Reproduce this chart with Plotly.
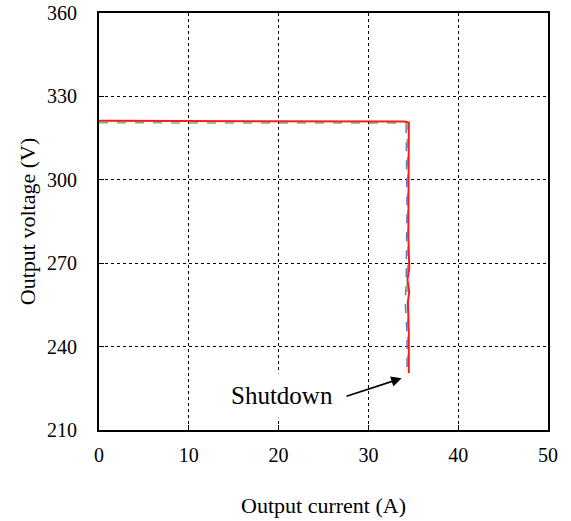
import plotly.graph_objects as go

# Data
red_current = [0, 5, 10, 15, 20, 25, 30, 34.0, 34.5, 34.5, 34.45, 34.55, 34.35, 34.55, 34.4, 34.5, 34.5, 34.5]
red_voltage = [321.2, 321.2, 321.1, 321.1, 321.1, 321.0, 321.0, 321.0, 320.6, 300, 280, 268, 264, 260, 256, 245, 235, 230.5]

green_current = [0, 10, 20, 30, 34.3, 34.4, 34.4, 34.3, 34.4, 34.4]
green_voltage = [320.5, 320.5, 320.5, 320.4, 320.4, 300, 270, 262, 250, 232]

blue_current = [34.2, 34.3, 34.2, 34.1, 34.3, 34.3]
blue_voltage = [320, 290, 262, 256, 245, 232]

x_ticks = [0, 10, 20, 30, 40, 50]
y_ticks = [210, 240, 270, 300, 330, 360]

font_family = "Liberation Serif"

fig = go.Figure()
fig.add_trace(go.Scatter(x=blue_current, y=blue_voltage, mode="lines",
                         line=dict(color="#4a7fd0", width=1.5, dash="dash"), showlegend=False))
fig.add_trace(go.Scatter(x=green_current, y=green_voltage, mode="lines",
                         line=dict(color="#5fc07a", width=1.5, dash="dash"), showlegend=False))
fig.add_trace(go.Scatter(x=red_current, y=red_voltage, mode="lines",
                         line=dict(color="#ff1a1a", width=2), showlegend=False))

# Arrow
fig.add_annotation(x=33.7, y=228.6, ax=27.4, ay=222.0, xref="x", yref="y",
                   axref="x", ayref="y", text="", showarrow=True,
                   arrowhead=2, arrowsize=1.3, arrowwidth=1.6, arrowcolor="black")
# Label
fig.add_annotation(x=20.35, y=222.3, xref="x", yref="y", text="Shutdown",
                   showarrow=False, bgcolor="white", borderpad=8,
                   font=dict(family=font_family, size=25, color="black"))

axis_common = dict(
    showline=True, linecolor="black", linewidth=2, mirror=True,
    showgrid=True, gridcolor="black", gridwidth=1, griddash="dot",
    zeroline=False, ticks="inside", ticklen=5, tickcolor="black", tickwidth=1,
    tickfont=dict(family=font_family, size=20, color="black"),
    automargin=False, ticklabeloverflow="allow",
)

fig.update_xaxes(range=[0, 50], tickvals=x_ticks, ticklabelstandoff=6,
                 title=dict(text="Output current (A)", standoff=33,
                            font=dict(family=font_family, size=22, color="black")),
                 **axis_common)
fig.update_yaxes(range=[210, 360], tickvals=y_ticks, ticklabelstandoff=16,
                 title=dict(text="Output voltage (V)", standoff=5,
                            font=dict(family=font_family, size=22, color="black")),
                 **axis_common)

fig.update_layout(
    width=571, height=521,
    margin=dict(l=99, r=23, t=13, b=91),
    paper_bgcolor="white", plot_bgcolor="white",
    font=dict(family=font_family, color="black"),
)

fig.write_html("out.html", config={"displayModeBar": False},
               post_script="document.body.style.margin='0';")
